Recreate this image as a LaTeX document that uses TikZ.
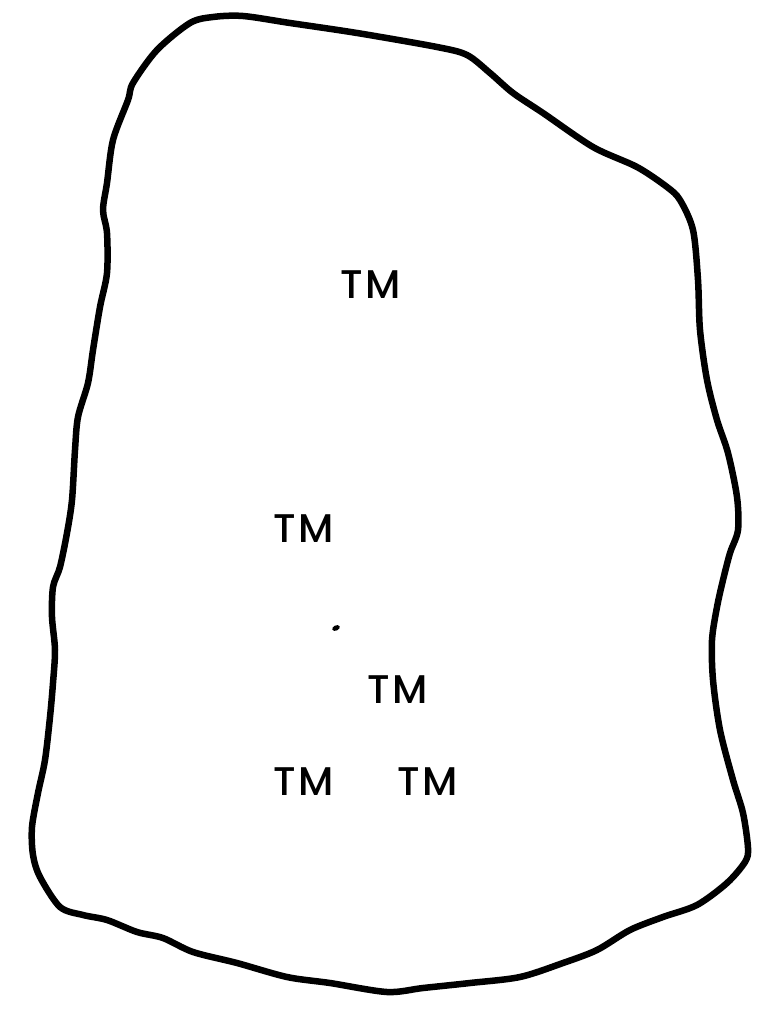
\documentclass[tikz,border=0pt]{standalone}
\usepackage{fontspec}
\setmainfont{Poppins}
\newfontfamily\tmfont{Poppins Medium}
\begin{document}
\begin{tikzpicture}[x=1pt,y=-1pt,
  outline/.style={line width=6.5pt,line join=round},
  lab/.style={anchor=base west,inner sep=0pt,font=\tmfont\fontsize{40}{44}\selectfont}]
\useasboundingbox[fill=white] (0,0) rectangle (763,1011);
\draw[outline] plot[smooth cycle,tension=0.5] coordinates {
 (213,17) (243,16) (290,23) (357,33) (437,47) (467,55) (490,73) (513,93)
 (543,113) (593,147) (637,167) (667,187) (680,200) (693,230) (698,280)
 (700,330) (707,380) (717,420) (728,453) (737,497) (738,530) (730,553)
 (723,580) (717,607) (712,640) (713,680) (720,730) (733,780) (743,813)
 (748,848) (745,862) (727,883) (697,905) (663,917) (630,930) (597,950)
 (563,963) (520,977) (470,983) (423,988) (387,992) (330,983) (287,977)
 (237,963) (193,952) (163,938) (137,932) (107,920) (83,915) (60,907)
 (40,877) (33,855) (32,827) (38,793) (45,760) (50,717) (53,683) (55,650)
 (52,617) (53,587) (60,567) (67,533) (72,500) (75,450) (78,417) (88,383)
 (93,350) (100,307) (107,273) (107,233) (103,210) (107,183) (113,140)
 (128,100) (133,83) (157,50) (190,23)};
\node[lab] (tm1) at (340,298) {T\kern3ptM};
\node[lab] (tm2) at (273,542) {T\kern3ptM};
\node[lab] (tm3) at (367,703) {T\kern3ptM};
\node[lab] (tm4) at (273,795) {T\kern3ptM};
\node[lab] (tm5) at (397,795) {T\kern3ptM};
\fill[rotate around={25:(336,628)}] (336,628) ellipse (4pt and 2.6pt);
\end{tikzpicture}
\end{document}
